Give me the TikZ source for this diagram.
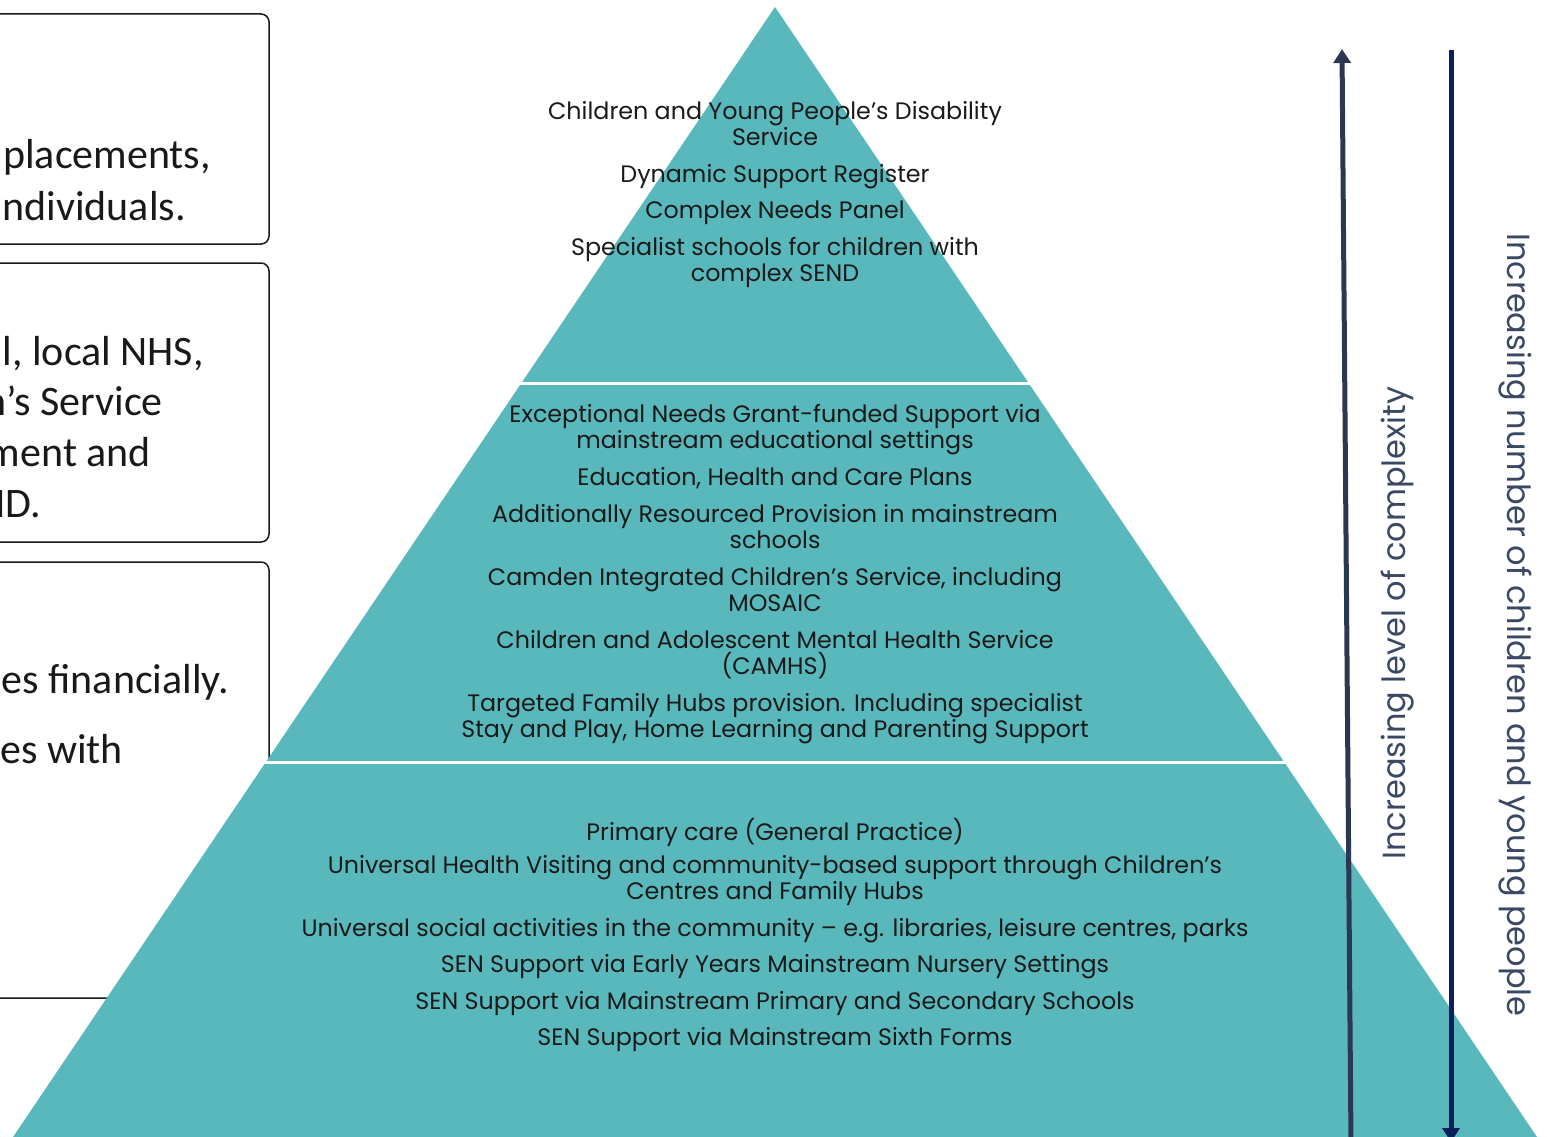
\documentclass[tikz,border=0pt]{standalone}
\usepackage{fontspec}
\setmainfont{Poppins}
\newfontfamily\boxfont{Carlito}
\usetikzlibrary{arrows.meta}
\definecolor{teal1}{HTML}{59B8BC}
\definecolor{slate}{HTML}{2C3853}
\definecolor{navy}{HTML}{0A1F5C}
\definecolor{sidetxt}{HTML}{3B4864}
\definecolor{pyrtxt}{HTML}{1A1A1A}
\newcommand{\tstr}{\rule[-5pt]{0pt}{21pt}}
\begin{document}
\begin{tikzpicture}[x=1pt,y=-1pt,
  boxline/.style={draw=black!90, line width=1.5pt, rounded corners=8pt},
  boxtxt/.style={font=\boxfont\fontsize{42}{50}\selectfont, anchor=base east, inner sep=0pt, text=black!90},
  item/.style={font={\fontsize{23.8}{26}\selectfont\lineskiplimit=-50pt}, align=center, anchor=north, inner sep=0pt, text=pyrtxt},
  sidelbl/.style={font=\fontsize{32}{36}\selectfont, text=sidetxt, inner sep=0pt},
  gap/.style={draw=white, line width=3pt},
  arr/.style={line width=5pt, -{Triangle[width=17pt,length=14pt]}}]
\useasboundingbox (0,0) rectangle (1547,1137);
\clip (0,0) rectangle (1547,1137);

% left boxes
\draw[boxline] (-30,14) rectangle (269,244);
\draw[boxline] (-30,263) rectangle (269,542);
\draw[boxline] (-30,562) rectangle (269,998);

\node[boxtxt] (b1a) at (211,168) {placements,};
\node[boxtxt] (b1b) at (186,220) {ndividuals.};
\node[boxtxt] (b2a) at (204,365) {l, local NHS,};
\node[boxtxt] (b2b) at (163,415) {n’s Service};
\node[boxtxt] (b2c) at (151,466) {ment and};
\node[boxtxt] (b2d) at (41,517) {ND.};
\node[boxtxt] (b3a) at (229,693) {es financially.};
\node[boxtxt] (b3b) at (123,763) {es with};

% pyramid
\coordinate (apex) at (775,7);
\coordinate (bl) at (7.6,1145);
\coordinate (br) at (1542.4,1145);
\fill[teal1] (apex) -- (bl) -- (br) -- cycle;
\coordinate (g1l) at (520,383);
\coordinate (g1r) at (1030,383);
\coordinate (g2l) at (264,762.5);
\coordinate (g2r) at (1286,762.5);
\draw[gap] (g1l) -- (g1r);
\draw[gap] (g2l) -- (g2r);

% top tier
\node[item] (t1) at (775,101.5) {\tstr Children and Young People’s Disability\\\tstr Service};
\node[item] (t2) at (775,164.5) {\tstr Dynamic Support Register};
\node[item] (t3) at (775,200.5) {\tstr Complex Needs Panel};
\node[item] (t4) at (775,237.5) {\tstr Specialist schools for children with\\\tstr complex SEND};

% middle tier
\node[item] (m1) at (775,404.5) {\tstr Exceptional Needs Grant-funded Support via\\\tstr mainstream educational settings};
\node[item] (m2) at (775,467.5) {\tstr Education, Health and Care Plans};
\node[item] (m3) at (775,504.5) {\tstr Additionally Resourced Provision in mainstream\\\tstr schools};
\node[item] (m4) at (775,567.5) {\tstr Camden Integrated Children’s Service, including\\\tstr MOSAIC};
\node[item] (m5) at (775,630.5) {\tstr Children and Adolescent Mental Health Service\\\tstr (CAMHS)};
\node[item] (m6) at (775,693.5) {\tstr Targeted Family Hubs provision. Including specialist\\\tstr Stay and Play, Home Learning and Parenting Support};

% bottom tier
\node[item] (u1) at (775,818.5) {\tstr Primary care (General Practice)};
\node[item] (u2) at (775,855.5) {\tstr Universal Health Visiting and community-based support through Children’s\\\tstr Centres and Family Hubs};
\node[item] (u3) at (775,918.5) {\tstr Universal social activities in the community – e.g. libraries, leisure centres, parks};
\node[item] (u4) at (775,954.5) {\tstr SEN Support via Early Years Mainstream Nursery Settings};
\node[item] (u5) at (775,991.5) {\tstr SEN Support via Mainstream Primary and Secondary Schools};
\node[item] (u6) at (775,1027.5) {\tstr SEN Support via Mainstream Sixth Forms};

% side arrows and labels
\coordinate (cxBot) at (1351,1145);
\coordinate (cxTop) at (1342,49);
\draw[arr, draw=slate] (cxBot) -- (cxTop);
\coordinate (nTop) at (1451,50);
\coordinate (nBot) at (1451,1142);
\draw[arr, draw=navy] (nTop) -- (nBot);

\node[sidelbl, rotate=90] (cplx) at (1398,623) {Increasing level of complexity};
\node[sidelbl, rotate=-90] (numb) at (1515,625) {Increasing number of children and young people};
\end{tikzpicture}
\end{document}
